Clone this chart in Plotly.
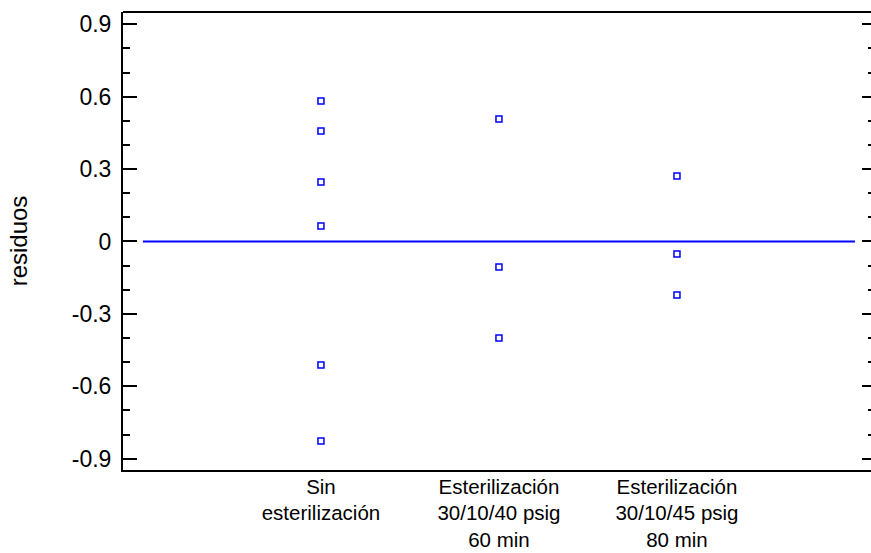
import plotly.graph_objects as go

# Data
categories = ["Sin<br>esterilización",
              "Esterilización<br>30/10/40 psig<br>60 min",
              "Esterilización<br>30/10/45 psig<br>80 min"]
cat_pos = [1, 2, 3]
group1 = [0.582, 0.458, 0.247, 0.064, -0.512, -0.827]
group2 = [0.508, -0.106, -0.400]
group3 = [0.271, -0.052, -0.222]
zero_line_x = [0, 4]
zero_line_y = [0, 0]
ytick_vals = [-0.9, -0.6, -0.3, 0, 0.3, 0.6, 0.9]
ytick_text = ["-0.9", "-0.6", "-0.3", "0", "0.3", "0.6", "0.9"]

FONT = "Arial, 'Liberation Sans', sans-serif"
BLUE = "#0000FF"

fig = go.Figure()
fig.add_trace(go.Scatter(x=zero_line_x, y=zero_line_y, mode="lines",
                         line=dict(color=BLUE, width=1.8), showlegend=False,
                         hoverinfo="skip"))
for pos, vals in zip(cat_pos, [group1, group2, group3]):
    fig.add_trace(go.Scatter(x=[pos] * len(vals), y=vals, mode="markers",
                             marker=dict(symbol="square-open", size=6,
                                         color=BLUE, line=dict(width=1.5, color=BLUE)),
                             showlegend=False))
# invisible trace for right axis
fig.add_trace(go.Scatter(x=[1], y=[0], yaxis="y2", mode="markers",
                         marker=dict(opacity=0), showlegend=False, hoverinfo="skip"))

yr = [-0.947, 0.951]
fig.update_layout(
    width=871, height=553,
    margin=dict(l=123, r=0, t=12, b=83, autoexpand=False),
    paper_bgcolor="white", plot_bgcolor="white",
    font=dict(family=FONT, color="black"),
    xaxis=dict(range=[-0.112, 4.09], tickvals=cat_pos, ticktext=categories,
               showline=True, linecolor="black", linewidth=2, mirror=False,
               ticks="", showgrid=False, zeroline=False, automargin=False,
               ticklabelstandoff=-3,
               tickfont=dict(size=20.5, family=FONT, color="black")),
    yaxis=dict(range=yr, tickvals=ytick_vals, ticktext=ytick_text,
               showline=True, linecolor="black", linewidth=2, mirror=False,
               ticks="inside", ticklen=14, tickwidth=2, tickcolor="black",
               minor=dict(dtick=0.1, tick0=0, ticks="inside", ticklen=7,
                          tickwidth=2, tickcolor="black", showgrid=False),
               showgrid=False, zeroline=False, ticklabelstandoff=5,
               automargin=False,
               tickfont=dict(size=23, family=FONT, color="black"),
               title=dict(text="residuos", standoff=37,
                          font=dict(size=24, family=FONT, color="black"))),
    yaxis2=dict(range=yr, overlaying="y", side="right", anchor="x",
                showline=False, automargin=False,
                tickvals=ytick_vals, showticklabels=False,
                ticks="inside", ticklen=9, tickwidth=2, tickcolor="black",
                minor=dict(dtick=0.1, tick0=0, ticks="inside", ticklen=3,
                           tickwidth=2, tickcolor="black", showgrid=False),
                showgrid=False, zeroline=False),
    shapes=[dict(type="line", xref="paper", yref="paper", x0=0, x1=1, y0=1, y1=1,
                 line=dict(color="black", width=2))],
)

fig.write_html("out.html")
